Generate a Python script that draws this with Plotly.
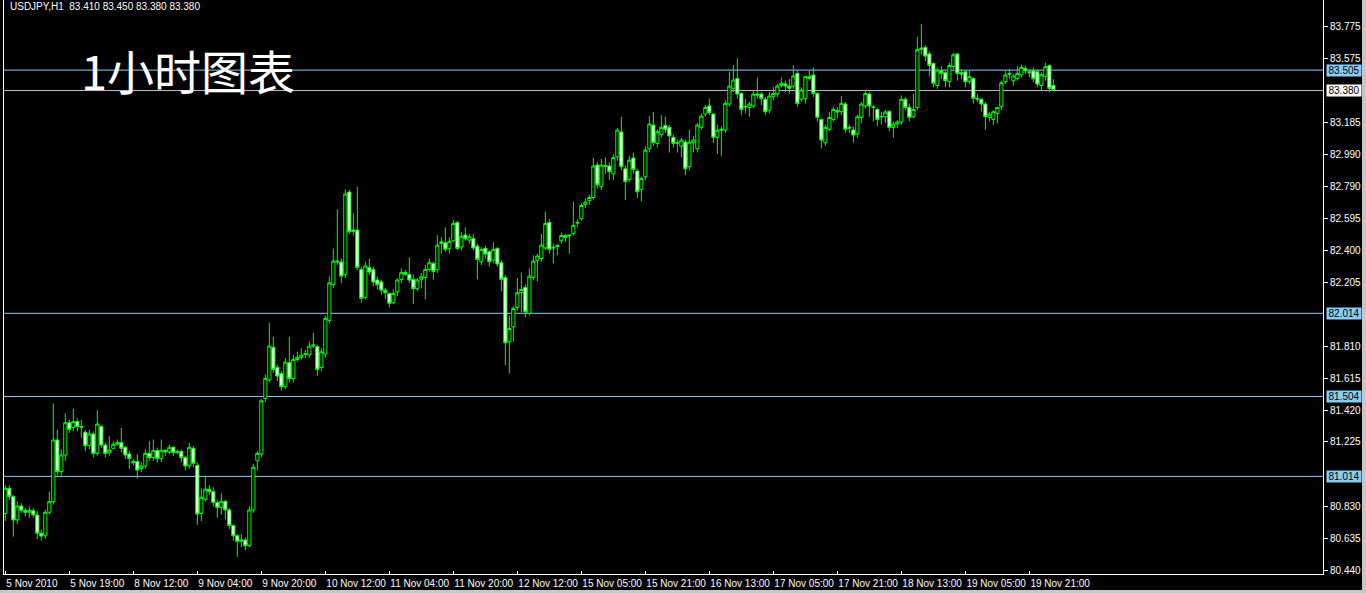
import plotly.graph_objects as go

# ---------------- data (USDJPY H1) ----------------
opens = [80.787,80.941,80.890,80.747,80.832,80.804,80.794,80.804,80.777,80.665,
80.650,80.794,80.859,81.237,81.043,81.145,81.343,81.315,81.350,81.319,
81.284,81.202,81.274,81.155,81.319,81.206,81.159,81.186,81.211,81.221,
81.192,81.151,81.106,81.106,81.062,81.078,81.155,81.129,81.172,81.123,
81.174,81.164,81.192,81.159,81.166,81.129,81.078,81.186,81.082,80.787,
80.873,80.935,80.920,80.853,80.824,80.861,80.808,80.712,80.650,80.616,
80.624,80.589,80.808,81.110,81.151,81.492,81.605,81.805,81.682,81.645,
81.564,81.711,81.613,81.731,81.744,81.762,81.758,81.813,81.809,81.682,
81.764,81.970,82.190,82.334,82.328,82.251,82.757,82.524,82.524,82.283,
82.112,82.295,82.283,82.218,82.206,82.156,82.136,82.079,82.144,82.222,
82.265,82.251,82.222,82.165,82.222,82.234,82.283,82.320,82.283,82.442,
82.446,82.410,82.459,82.571,82.420,82.494,82.462,82.473,82.426,82.330,
82.412,82.391,82.340,82.412,82.324,82.234,81.839,81.931,82.050,82.140,
82.173,82.013,82.234,82.340,82.350,82.414,82.571,82.414,82.424,82.459,
82.491,82.489,82.504,82.567,82.594,82.680,82.704,82.724,82.923,82.790,
82.919,82.917,82.868,82.974,83.125,82.900,82.835,82.966,82.886,82.774,
82.851,83.023,83.168,83.056,83.109,83.166,83.154,83.093,83.060,83.039,
83.064,82.913,83.060,83.023,83.154,83.236,83.285,83.236,83.093,83.137,
83.137,83.297,83.393,83.454,83.362,83.279,83.276,83.285,83.358,83.358,
83.326,83.260,83.342,83.358,83.411,83.420,83.407,83.407,83.485,83.326,
83.330,83.465,83.475,83.362,83.203,83.060,83.142,83.203,83.256,83.250,
83.297,83.148,83.138,83.113,83.215,83.285,83.358,83.276,83.264,83.219,
83.219,83.252,83.154,83.174,83.187,83.326,83.276,83.219,83.276,83.632,
83.644,83.604,83.546,83.411,83.501,83.489,83.434,83.526,83.604,83.489,
83.495,83.434,83.454,83.332,83.326,83.297,83.215,83.203,83.240,83.281,
83.434,83.485,83.440,83.452,83.475,83.515,83.495,83.501,83.495,83.411,
83.465,83.534,83.410]

highs = [80.960,80.960,80.900,80.860,80.850,80.820,80.830,80.820,80.800,80.690,
80.810,80.920,81.462,81.300,81.180,81.400,81.360,81.430,81.370,81.360,
81.300,81.300,81.290,81.420,81.330,81.220,81.260,81.230,81.240,81.310,
81.200,81.170,81.120,81.150,81.100,81.180,81.230,81.240,81.190,81.240,
81.180,81.210,81.200,81.180,81.180,81.140,81.220,81.200,81.100,80.940,
81.010,80.960,80.950,80.870,80.910,80.870,80.820,80.720,80.660,80.660,
80.640,80.830,81.090,81.170,81.490,81.640,81.956,81.870,81.700,81.660,
81.740,81.870,81.760,81.780,81.800,81.790,81.840,81.895,81.820,81.800,
82.000,82.240,82.412,82.651,82.350,82.774,82.770,82.627,82.790,82.300,
82.330,82.350,82.300,82.240,82.220,82.170,82.140,82.160,82.230,82.290,
82.280,82.357,82.250,82.230,82.260,82.310,82.350,82.330,82.494,82.480,
82.541,82.480,82.585,82.580,82.510,82.540,82.500,82.500,82.440,82.420,
82.430,82.400,82.450,82.420,82.340,82.250,82.000,82.060,82.230,82.265,
82.190,82.290,82.370,82.380,82.500,82.637,82.590,82.440,82.440,82.510,
82.500,82.500,82.698,82.590,82.690,82.720,82.740,82.968,82.940,82.960,
82.970,82.940,82.990,83.150,83.219,82.920,82.980,83.000,82.900,82.850,
83.040,83.223,83.248,83.140,83.230,83.220,83.170,83.110,83.080,83.090,
83.080,83.140,83.100,83.180,83.240,83.290,83.330,83.240,83.170,83.160,
83.320,83.495,83.536,83.577,83.370,83.330,83.310,83.380,83.460,83.370,
83.340,83.370,83.400,83.420,83.460,83.440,83.450,83.536,83.500,83.400,
83.470,83.505,83.520,83.370,83.210,83.170,83.250,83.280,83.280,83.346,
83.310,83.170,83.160,83.230,83.310,83.383,83.370,83.290,83.270,83.250,
83.260,83.260,83.190,83.200,83.350,83.340,83.300,83.360,83.710,83.787,
83.660,83.620,83.550,83.520,83.530,83.500,83.550,83.610,83.610,83.510,
83.500,83.500,83.460,83.360,83.330,83.310,83.250,83.260,83.280,83.440,
83.500,83.510,83.480,83.530,83.540,83.530,83.510,83.520,83.510,83.490,
83.550,83.540,83.450]

lows = [80.740,80.870,80.644,80.720,80.790,80.770,80.760,80.760,80.630,80.620,
80.630,80.780,80.840,81.020,81.010,81.110,81.280,81.290,81.290,81.250,
81.170,81.180,81.130,81.140,81.190,81.130,81.140,81.180,81.200,81.160,
81.120,81.060,81.080,81.000,81.040,81.060,81.110,81.110,81.100,81.100,
81.140,81.150,81.140,81.150,81.100,81.050,81.060,81.070,80.716,80.740,
80.860,80.900,80.830,80.760,80.780,80.750,80.690,80.620,80.520,80.580,
80.560,80.580,80.790,81.050,81.130,81.470,81.590,81.650,81.600,81.540,
81.550,81.590,81.590,81.720,81.730,81.740,81.740,81.800,81.630,81.660,
81.740,81.950,82.170,82.310,82.200,82.230,82.500,82.490,82.280,82.080,
82.100,82.250,82.180,82.160,82.130,82.100,82.050,82.070,82.120,82.200,
82.240,82.200,82.070,82.150,82.170,82.099,82.270,82.220,82.260,82.380,
82.390,82.380,82.450,82.400,82.400,82.460,82.440,82.400,82.222,82.310,
82.350,82.300,82.320,82.300,82.150,81.696,81.645,81.840,82.030,82.020,
81.990,82.000,82.220,82.210,82.330,82.400,82.380,82.320,82.370,82.440,
82.450,82.380,82.490,82.540,82.580,82.660,82.680,82.710,82.780,82.770,
82.870,82.830,82.830,82.950,82.890,82.708,82.820,82.870,82.720,82.700,
82.830,83.000,83.040,83.030,83.090,83.120,83.000,83.030,83.000,82.970,
82.860,82.890,83.000,83.000,83.140,83.220,83.230,83.060,82.990,82.980,
83.120,83.280,83.370,83.330,83.230,83.240,83.220,83.270,83.330,83.290,
83.230,83.240,83.320,83.340,83.400,83.370,83.360,83.390,83.280,83.310,
83.300,83.440,83.340,83.190,83.025,83.040,83.130,83.190,83.210,83.230,
83.120,83.120,83.060,83.090,83.180,83.270,83.220,83.190,83.160,83.170,
83.180,83.130,83.090,83.150,83.170,83.260,83.190,83.210,83.260,83.600,
83.560,83.470,83.400,83.390,83.450,83.400,83.400,83.510,83.440,83.450,
83.400,83.420,83.300,83.310,83.250,83.140,83.190,83.170,83.180,83.260,
83.420,83.450,83.410,83.440,83.460,83.480,83.460,83.430,83.400,83.380,
83.440,83.370,83.380]

closes = [80.941,80.890,80.747,80.832,80.804,80.794,80.804,80.778,80.665,80.648,
80.794,80.859,81.237,81.043,81.145,81.343,81.302,81.350,81.319,81.315,
81.202,81.274,81.155,81.335,81.206,81.155,81.176,81.211,81.221,81.186,
81.145,81.123,81.098,81.053,81.078,81.155,81.129,81.172,81.123,81.174,
81.164,81.192,81.159,81.166,81.129,81.078,81.192,81.094,80.783,80.886,
80.935,80.920,80.853,80.824,80.861,80.808,80.712,80.650,80.616,80.624,
80.589,80.808,81.070,81.155,81.478,81.615,81.813,81.670,81.629,81.564,
81.715,81.613,81.731,81.744,81.758,81.766,81.813,81.819,81.670,81.778,
81.983,82.201,82.334,82.330,82.242,82.745,82.514,82.518,82.295,82.105,
82.304,82.267,82.206,82.189,82.156,82.140,82.075,82.136,82.218,82.263,
82.253,82.218,82.165,82.218,82.238,82.283,82.324,82.271,82.432,82.453,
82.406,82.455,82.565,82.412,82.487,82.471,82.483,82.414,82.344,82.406,
82.377,82.330,82.406,82.316,82.222,81.833,81.921,82.044,82.140,82.160,
82.023,82.242,82.334,82.365,82.432,82.565,82.406,82.418,82.428,82.491,
82.479,82.493,82.553,82.571,82.675,82.696,82.724,82.917,82.802,82.923,
82.915,82.882,82.970,83.137,82.913,82.821,82.953,82.896,82.759,82.841,
83.015,83.174,83.060,83.127,83.154,83.142,83.101,83.056,83.058,83.076,
82.900,83.064,83.076,83.168,83.223,83.276,83.244,83.093,83.137,83.142,
83.301,83.407,83.444,83.358,83.264,83.283,83.297,83.358,83.352,83.330,
83.250,83.346,83.362,83.407,83.424,83.407,83.393,83.469,83.301,83.383,
83.465,83.454,83.362,83.215,83.076,83.154,83.215,83.264,83.248,83.301,
83.142,83.154,83.107,83.219,83.297,83.362,83.285,83.278,83.203,83.221,
83.248,83.154,83.174,83.187,83.326,83.276,83.215,83.264,83.632,83.640,
83.591,83.534,83.424,83.505,83.485,83.440,83.534,83.599,83.485,83.481,
83.434,83.465,83.332,83.328,83.297,83.219,83.235,83.250,83.276,83.428,
83.475,83.481,83.469,83.485,83.522,83.501,83.489,83.452,83.420,83.477,
83.526,83.393,83.380]

bars = list(range(len(closes)))

tick_bars = [0, 16, 32, 48, 64, 80, 96, 112, 128, 144, 160, 176, 192, 208, 224, 240, 256]
tick_texts = ["5 Nov 2010", "5 Nov 19:00", "8 Nov 12:00", "9 Nov 04:00", "9 Nov 20:00",
              "10 Nov 12:00", "11 Nov 04:00", "11 Nov 20:00", "12 Nov 12:00", "15 Nov 05:00",
              "15 Nov 21:00", "16 Nov 13:00", "17 Nov 05:00", "17 Nov 21:00", "18 Nov 13:00",
              "19 Nov 05:00", "19 Nov 21:00"]

price_ticks = [80.440, 80.635, 80.830, 81.225, 81.420, 81.615, 81.810, 82.205,
               82.400, 82.595, 82.790, 82.990, 83.185, 83.575, 83.775]
price_tick_texts = ["80.440", "80.635", "80.830", "81.225", "81.420", "81.615", "81.810", "82.205",
                    "82.400", "82.595", "82.790", "82.990", "83.185", "83.575", "83.775"]

level_values = [83.505, 82.014, 81.504, 81.014]
bid_value = 83.380
header_text = "USDJPY,H1  83.410 83.450 83.380 83.380"
big_title = "1小时图表"

# ---------------- figure ----------------
W, H = 1366, 593
ML, MR, MT, MB = 4, 43, 0, 19
plot_w = W - ML - MR
plot_h = H - MT - MB

def px_x(px):
    return (px - ML) / plot_w

def px_y(py):
    return (H - MB - py) / plot_h

fig = go.Figure()
fig.add_trace(go.Candlestick(
    x=bars, open=opens, high=highs, low=lows, close=closes,
    increasing=dict(line=dict(color="#00FF00", width=1), fillcolor="#000000"),
    decreasing=dict(line=dict(color="#00FF00", width=1), fillcolor="#FFFFFF"),
    whiskerwidth=0, hoverinfo="skip", showlegend=False,
))

LEVEL_COLOR = "#87CEFA"
shapes = []
annotations = []
for v in level_values:
    shapes.append(dict(type="line", xref="paper", x0=0, x1=1, yref="y", y0=v, y1=v,
                       line=dict(color=LEVEL_COLOR, width=1), layer="below"))
    annotations.append(dict(xref="paper", x=px_x(1326), xanchor="left", yref="y", y=v,
                            yanchor="middle", text=f"{v:.3f}", showarrow=False,
                            bgcolor=LEVEL_COLOR, width=34, height=11, borderpad=0,
                            font=dict(family="Liberation Sans", size=10, color="#000000")))
shapes.append(dict(type="line", xref="paper", x0=0, x1=1, yref="y", y0=bid_value, y1=bid_value,
                   line=dict(color="#C0C0C0", width=1), layer="below"))
annotations.append(dict(xref="paper", x=px_x(1326), xanchor="left", yref="y", y=bid_value,
                        yanchor="middle", text=f"{bid_value:.3f}", showarrow=False,
                        bgcolor="#FFFFFF", width=34, height=11, borderpad=0,
                        font=dict(family="Liberation Sans", size=10, color="#000000")))

# header and big title
annotations.append(dict(xref="paper", x=px_x(8), xanchor="left", yref="paper", y=px_y(-1),
                        yanchor="top", text=header_text, showarrow=False,
                        font=dict(family="Liberation Sans", size=10, color="#FFFFFF")))
annotations.append(dict(xref="paper", x=px_x(79), xanchor="left", yref="paper", y=px_y(69),
                        yanchor="middle", text=big_title, showarrow=False,
                        font=dict(family="Noto Sans CJK SC", size=47, color="#FFFFFF")))

# window frame (right and bottom grey edge)
shapes.append(dict(type="rect", xref="paper", yref="paper", x0=px_x(1362), x1=px_x(1366),
                   y0=px_y(593), y1=px_y(0), fillcolor="#C8C8C8", line=dict(width=0)))
shapes.append(dict(type="rect", xref="paper", yref="paper", x0=px_x(0), x1=px_x(1366),
                   y0=px_y(593), y1=px_y(590), fillcolor="#C8C8C8", line=dict(width=0)))

fig.update_layout(
    width=W, height=H,
    margin=dict(l=ML, r=MR, t=MT, b=MB, pad=0, autoexpand=False),
    paper_bgcolor="#000000", plot_bgcolor="#000000",
    showlegend=False, hovermode=False,
    boxgap=0.2, boxgroupgap=0,
    shapes=shapes, annotations=annotations,
    font=dict(family="Liberation Sans", size=10, color="#FFFFFF"),
)
fig.update_xaxes(
    range=[-0.33, 329.4], rangeslider=dict(visible=False),
    tickmode="array", tickvals=tick_bars, ticktext=tick_texts,
    ticks="inside", ticklen=3, tickcolor="#FFFFFF", tickangle=0,
    ticklabelposition="outside right", automargin=False,
    tickfont=dict(family="Liberation Sans", size=10, color="#FFFFFF"),
    showgrid=False, zeroline=False, showline=True, linecolor="#FFFFFF", linewidth=1,
)
fig.update_yaxes(
    side="right", range=[80.4155, 83.935], automargin=False,
    tickmode="array", tickvals=price_ticks, ticktext=price_tick_texts,
    ticks="outside", ticklen=4, tickcolor="#FFFFFF",
    tickfont=dict(family="Liberation Sans", size=10, color="#FFFFFF"),
    showgrid=False, zeroline=False, showline=True, linecolor="#FFFFFF", linewidth=1,
    mirror=True,
)

fig.write_html(
    "out.html",
    config={"displayModeBar": False, "staticPlot": True},
    post_script="document.body.style.margin='0';document.body.style.padding='0';"
                "document.body.style.overflow='hidden';document.body.style.background='#000';",
)
